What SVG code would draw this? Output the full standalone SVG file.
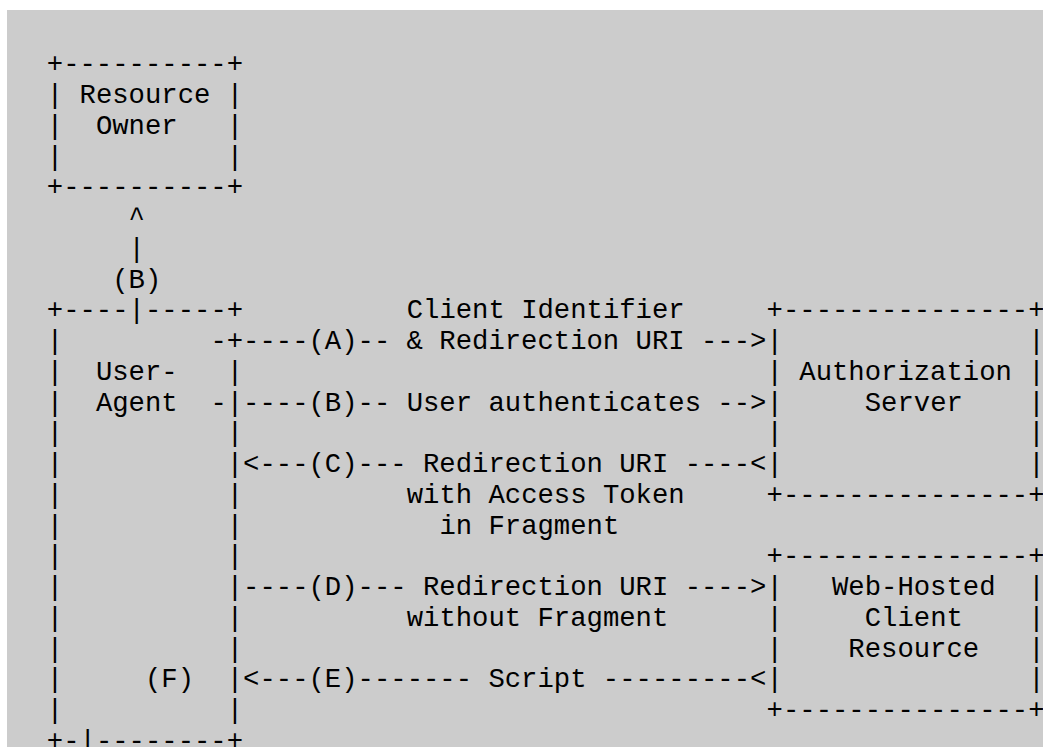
<svg xmlns="http://www.w3.org/2000/svg" width="1043" height="747" viewBox="0 0 1043 747">
<style>
text { font-family: "Liberation Mono", "DejaVu Sans Mono", monospace; font-size: 27.26px; fill: #000; white-space: pre; }
</style>
<rect x="0" y="0" width="1043" height="747" fill="#ffffff"/>
<rect x="7" y="10" width="1036" height="737" fill="#cccccc"/>

<g id="resource-owner">
<text x="46.82" y="72.25">+----------+</text>
<text x="46.82" y="103">|</text><text x="226.76" y="103">|</text>
<text x="46.82" y="133.75">|</text><text x="226.76" y="133.75">|</text>
<text x="46.82" y="164.5">|</text><text x="226.76" y="164.5">|</text>
<text x="79.54" y="103">Resource</text>
<text x="95.89" y="133.75">Owner</text>
<text x="46.82" y="195.25">+----------+</text>
</g>

<g id="user-agent">
<text x="46.82" y="318.25">+----</text><text x="144.97" y="318.25">-----+</text>
<text x="46.82" y="349">|</text>
<text x="46.82" y="379.75">|</text><text x="226.76" y="379.75">|</text>
<text x="46.82" y="410.5">|</text><text x="226.76" y="410.5">|</text>
<text x="46.82" y="441.25">|</text><text x="226.76" y="441.25">|</text>
<text x="46.82" y="472">|</text><text x="226.76" y="472">|</text>
<text x="46.82" y="502.75">|</text><text x="226.76" y="502.75">|</text>
<text x="46.82" y="533.5">|</text><text x="226.76" y="533.5">|</text>
<text x="46.82" y="564.25">|</text><text x="226.76" y="564.25">|</text>
<text x="46.82" y="595">|</text><text x="226.76" y="595">|</text>
<text x="46.82" y="625.75">|</text><text x="226.76" y="625.75">|</text>
<text x="46.82" y="656.5">|</text><text x="226.76" y="656.5">|</text>
<text x="46.82" y="687.25">|</text><text x="226.76" y="687.25">|</text>
<text x="46.82" y="718">|</text><text x="226.76" y="718">|</text>
<text x="95.89" y="379.75">User-</text>
<text x="95.89" y="410.5">Agent</text>
<text x="144.97" y="687.25">(F)</text>
<text x="46.82" y="748.75">+-</text><text x="95.89" y="748.75">--------+</text>
</g>

<g id="authorization-server">
<text x="766.58" y="318.25">+---------------+</text>
<text x="766.58" y="349">|</text><text x="1028.3" y="349">|</text>
<text x="766.58" y="379.75">|</text><text x="1028.3" y="379.75">|</text>
<text x="766.58" y="410.5">|</text><text x="1028.3" y="410.5">|</text>
<text x="766.58" y="441.25">|</text><text x="1028.3" y="441.25">|</text>
<text x="766.58" y="472">|</text><text x="1028.3" y="472">|</text>
<text x="799.29" y="379.75">Authorization</text>
<text x="864.72" y="410.5">Server</text>
<text x="766.58" y="502.75">+---------------+</text>
</g>

<g id="web-hosted-client-resource">
<text x="766.58" y="564.25">+---------------+</text>
<text x="766.58" y="595">|</text><text x="1028.3" y="595">|</text>
<text x="766.58" y="625.75">|</text><text x="1028.3" y="625.75">|</text>
<text x="766.58" y="656.5">|</text><text x="1028.3" y="656.5">|</text>
<text x="766.58" y="687.25">|</text><text x="1028.3" y="687.25">|</text>
<text x="832.0" y="595">Web-Hosted</text>
<text x="864.72" y="625.75">Client</text>
<text x="848.36" y="656.5">Resource</text>
<text x="766.58" y="718">+---------------+</text>
</g>

<g id="connectors">
<text x="128.61" y="226">^</text>
<text x="128.61" y="256.75">|</text>
<text x="112.25" y="287.5">(B)</text>
<text x="128.61" y="318.25">|</text>
<text x="406.70" y="318.25">Client Identifier</text>
<text x="210.40" y="349">-+----(A)-- &amp; Redirection URI ---&gt;</text>
<text x="210.40" y="410.5">-</text>
<text x="243.12" y="410.5">----(B)-- User authenticates --&gt;</text>
<text x="243.12" y="472">&lt;---(C)--- Redirection URI ----&lt;</text>
<text x="406.70" y="502.75">with Access Token</text>
<text x="439.41" y="533.5">in Fragment</text>
<text x="243.12" y="595">----(D)--- Redirection URI ----&gt;</text>
<text x="406.70" y="625.75">without Fragment</text>
<text x="243.12" y="687.25">&lt;---(E)------- Script ---------&lt;</text>
<text x="79.54" y="748.75">|</text>
</g>
</svg>
